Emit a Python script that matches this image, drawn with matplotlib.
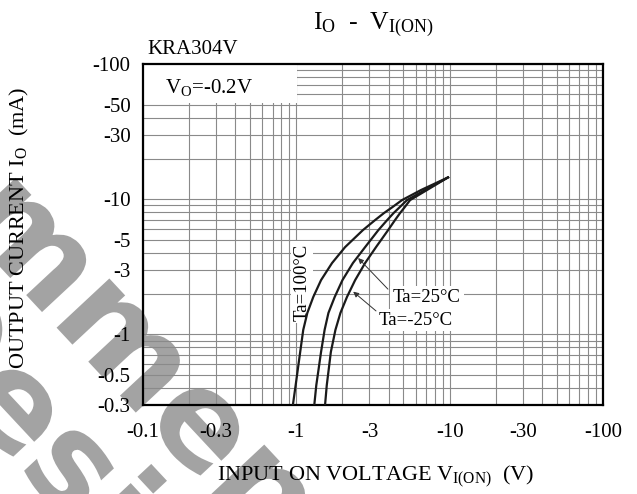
import numpy as np
import matplotlib
matplotlib.use('Agg')
import matplotlib.pyplot as plt
import matplotlib.patheffects as pe
from matplotlib.patches import Rectangle
from matplotlib.ticker import FixedLocator, FixedFormatter, LogLocator, NullFormatter

plt.rcParams['font.family'] = ['Liberation Serif', 'DejaVu Serif']
plt.rcParams['mathtext.fontset'] = 'custom'
plt.rcParams['mathtext.rm'] = 'Liberation Serif'
plt.rcParams['mathtext.it'] = 'Liberation Serif:italic'
plt.rcParams['mathtext.bf'] = 'Liberation Serif:bold'

# output current Io (mA), read at the same levels for all three curves
io = [-0.3, -0.42, -0.74, -1.08, -1.44, -1.89, -2.52, -3.37, -4.42, -5.91,
      -7.0, -7.9, -8.7, -9.85, -11.7, -14.5]
# input on voltage VI(ON) (V) for each ambient temperature
vi_100 = [-0.95, -0.99, -1.06, -1.11, -1.18, -1.29, -1.45, -1.71, -2.08, -2.72,
          -3.26, -3.73, -4.21, -4.89, -6.51, -9.76]
vi_25 = [-1.31, -1.35, -1.45, -1.53, -1.62, -1.78, -2.00, -2.34, -2.81, -3.43,
         -3.91, -4.31, -4.71, -5.27, -6.91, -9.76]
vi_m25 = [-1.54, -1.58, -1.68, -1.80, -1.94, -2.14, -2.42, -2.81, -3.31, -3.97,
          -4.40, -4.75, -5.08, -5.52, -7.12, -9.76]

xticks = [-0.1, -0.3, -1, -3, -10, -30, -100]
yticks = [-0.3, -0.5, -1, -3, -5, -10, -30, -50, -100]

def mag(v):
    return [-a for a in v]

fig = plt.figure(figsize=(6.37, 4.94), dpi=100)
ax = fig.add_axes([0.2245, 0.1802, 0.722, 0.690])
ax.patch.set_visible(False)
ax.set_xscale('log')
ax.set_yscale('log')
ax.set_xlim(0.1, 100)
ax.set_ylim(0.3, 100)

ax.xaxis.set_major_locator(FixedLocator(mag(xticks)))
ax.xaxis.set_major_formatter(FixedFormatter(['%g' % t for t in xticks]))
ax.yaxis.set_major_locator(FixedLocator(mag(yticks)))
ax.yaxis.set_major_formatter(FixedFormatter(['%g' % t for t in yticks]))
ax.xaxis.set_minor_locator(LogLocator(base=10, subs=np.arange(1, 10)))
ax.yaxis.set_minor_locator(LogLocator(base=10, subs=np.arange(1, 10)))
ax.xaxis.set_minor_formatter(NullFormatter())
ax.yaxis.set_minor_formatter(NullFormatter())
ax.grid(which='both', color='#8a8a8a', lw=0.8)
ax.tick_params(which='both', length=0, labelsize=15)
ax.tick_params(axis='x', pad=13)
ax.tick_params(axis='y', pad=9)
for s in ax.spines.values():
    s.set_linewidth(1.6)

ax.plot(mag(vi_100), mag(io), color='#1a1a1a', lw=1.6, zorder=4)
ax.plot(mag(vi_25), mag(io), color='#1a1a1a', lw=1.6, zorder=4)
ax.plot(mag(vi_m25), mag(io), color='#1a1a1a', lw=1.6, zorder=4)

# condition box top-left
ax.add_patch(Rectangle((0, 0.886), 0.335, 0.114, transform=ax.transAxes,
                       fc='white', ec='none', zorder=2))
ax.text(0.048, 0.93, 'V$_\\mathrm{O}$=-0.2V', transform=ax.transAxes,
        fontsize=15, va='center', zorder=3)

box = dict(fc='white', ec='none', pad=2)
ax.text(1.09, 2.44, 'Ta=100°C', rotation=90, ha='center', va='center',
        fontsize=13.5, bbox=box, zorder=3)
ax.text(4.27, 1.87, 'Ta=25°C', ha='left', va='center', fontsize=13.5,
        bbox=box, zorder=3)
ax.text(3.43, 1.276, 'Ta=-25°C', ha='left', va='center', fontsize=13.5,
        bbox=box, zorder=3)
arrow = dict(arrowstyle='-|>', color='#333333', lw=0.7, mutation_scale=8,
             shrinkA=0, shrinkB=0)
ax.annotate('', xy=(2.53, 3.67), xytext=(3.96, 2.16), arrowprops=arrow, zorder=5)
ax.annotate('', xy=(2.35, 2.07), xytext=(3.31, 1.49), arrowprops=arrow, zorder=5)

fig.text(0.586, 0.949, 'I$_\\mathrm{O}$  -  V$_{\\mathrm{I(ON)}}$',
         ha='center', va='center', fontsize=18.5)
fig.text(0.2308, 0.899, 'KRA304V', ha='left', va='center', fontsize=15)
fig.text(0.5895, 0.036, 'INPUT ON VOLTAGE V$_{\\mathrm{I(ON)}}$  (V)',
         ha='center', va='center', fontsize=16)
fig.text(0.031, 0.538, 'OUTPUT CURRENT I$_\\mathrm{O}$  (mA)', rotation=90,
         ha='center', va='center', fontsize=16)

# watermark, sits underneath the chart
wm = dict(rotation=-47, rotation_mode='anchor', ha='center', va='center',
          fontsize=95, family='DejaVu Sans', weight='bold', color='#a3a3a3',
          zorder=-1,
          path_effects=[pe.withStroke(linewidth=3, foreground='white')])
fig.text(0.0754, 0.4636, 'Recommend', **wm)
fig.text(0.128, 0.02, 'Design', **wm)

fig.savefig('out.png', dpi=100)
